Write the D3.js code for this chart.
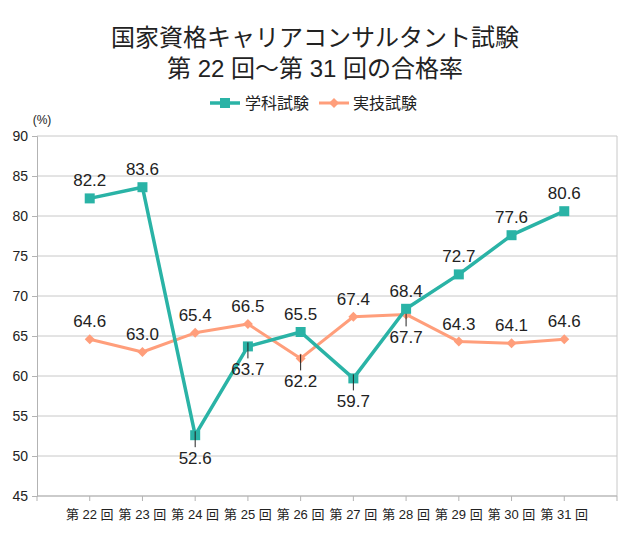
<!DOCTYPE html>
<html>
<head>
<meta charset="utf-8">
<script src="https://cdn.jsdelivr.net/npm/d3@7"></script>
<style>
  body { margin: 0; background: white; }
  svg text { font-family: "Liberation Sans", "Noto Sans CJK JP", sans-serif; fill: #222; }
</style>
</head>
<body>
<svg id="chart"></svg>
<script>
// exam rounds
const rounds = ["第 22 回", "第 23 回", "第 24 回", "第 25 回", "第 26 回", "第 27 回", "第 28 回", "第 29 回", "第 30 回", "第 31 回"];
// pass rates (%)
const gakka = [82.2, 83.6, 52.6, 63.7, 65.5, 59.7, 68.4, 72.7, 77.6, 80.6];
const jitsugi = [64.6, 63.0, 65.4, 66.5, 62.2, 67.4, 67.7, 64.3, 64.1, 64.6];
// which labels go under the point
const gakkaBelow = [false, false, true, true, false, true, false, false, false, false];
const jitsugiBelow = [false, false, false, false, true, false, true, false, false, false];
const yTicks = [45, 50, 55, 60, 65, 70, 75, 80, 85, 90];

const width = 630, height = 533;
const margin = { top: 136, right: 13, bottom: 37, left: 37 };
const innerW = width - margin.left - margin.right;
const innerH = height - margin.top - margin.bottom;

const teal = "#2ab3a6";
const orange = "#ff9e7b";

const svg = d3.select("#chart")
    .attr("width", width)
    .attr("height", height);

//title
svg.append("text")
    .attr("x", width / 2).attr("y", 46)
    .attr("text-anchor", "middle")
    .style("font-size", "24px")
    .text("国家資格キャリアコンサルタント試験");
svg.append("text")
    .attr("x", width / 2).attr("y", 77)
    .attr("text-anchor", "middle")
    .style("font-size", "24px")
    .text("第 22 回〜第 31 回の合格率");

const g = svg.append("g")
    .attr("transform", `translate(${margin.left},${margin.top})`);

const xScale = d3.scalePoint()
    .domain(rounds)
    .range([0, innerW])
    .padding(1);

const yScale = d3.scaleLinear()
    .domain([45, 90])
    .range([innerH, 0]);

//grid
g.append("g")
    .selectAll("line")
    .data(yTicks)
    .enter()
    .append("line")
    .attr("x1", 0).attr("x2", innerW)
    .attr("y1", d => yScale(d)).attr("y2", d => yScale(d))
    .style("stroke", "#c8c8c8")
    .style("stroke-width", 1);

//right border
g.append("line")
    .attr("x1", innerW).attr("x2", innerW)
    .attr("y1", 0).attr("y2", innerH)
    .style("stroke", "#c8c8c8");

//y axis
const yAxis = d3.axisLeft(yScale)
    .tickValues(yTicks)
    .tickSize(5)
    .tickPadding(4);
const yAxisGroup = g.append("g").call(yAxis);
yAxisGroup.select(".domain").style("stroke", "#b3b3b3");
yAxisGroup.selectAll(".tick line").style("stroke", "#b3b3b3");
yAxisGroup.selectAll("text")
    .style("font-size", "14px")
    .style("font-family", "Liberation Sans")
    .style("fill", "#222");

g.append("text")
    .attr("x", 5).attr("y", -12)
    .attr("text-anchor", "middle")
    .style("font-size", "12px")
    .text("(%)");

//x axis
const step = xScale.step();
const xTickPos = d3.range(rounds.length + 2).map(i => i * step);
const xAxisGroup = g.append("g")
    .attr("transform", `translate(0,${innerH})`);
xAxisGroup.append("line")
    .attr("x1", 0).attr("x2", innerW)
    .style("stroke", "#b3b3b3");
xAxisGroup.selectAll("line.tick")
    .data(xTickPos)
    .enter()
    .append("line")
    .attr("class", "tick")
    .attr("x1", d => d).attr("x2", d => d)
    .attr("y1", 0).attr("y2", 5)
    .style("stroke", "#b3b3b3");
xAxisGroup.selectAll("text")
    .data(rounds)
    .enter()
    .append("text")
    .attr("x", d => xScale(d))
    .attr("y", 23)
    .attr("text-anchor", "middle")
    .style("font-size", "13px")
    .text(d => d);

//series
const line = d3.line()
    .x((d, i) => xScale(rounds[i]))
    .y(d => yScale(d));

function drawSeries(values, below, color, lineW, marker) {
    g.append("path")
        .datum(values)
        .attr("d", line)
        .style("fill", "none")
        .style("stroke", color)
        .style("stroke-width", lineW)
        .style("stroke-linejoin", "round");

    g.selectAll(null)
        .data(values)
        .enter()
        .append("path")
        .attr("transform", (d, i) => `translate(${xScale(rounds[i])},${yScale(d)})`)
        .attr("d", marker)
        .style("fill", color);

    //leader lines for labels below
    g.selectAll(null)
        .data(values.map((v, i) => ({ v, i })).filter(d => below[d.i]))
        .enter()
        .append("line")
        .attr("x1", d => xScale(rounds[d.i])).attr("x2", d => xScale(rounds[d.i]))
        .attr("y1", d => yScale(d.v) - 4).attr("y2", d => yScale(d.v) + 12)
        .style("stroke", "#222")
        .style("stroke-width", 1);

    g.selectAll(null)
        .data(values)
        .enter()
        .append("text")
        .attr("x", (d, i) => xScale(rounds[i]))
        .attr("y", (d, i) => below[i] ? yScale(d) + 29 : yScale(d) - 12)
        .attr("text-anchor", "middle")
        .style("font-size", "17px")
        .text(d => d.toFixed(1));
}

const squareMarker = d3.symbol().type(d3.symbolSquare).size(100)();
const diamondMarker = "M0,-5L5,0L0,5L-5,0Z";

drawSeries(jitsugi, jitsugiBelow, orange, 3, diamondMarker);
drawSeries(gakka, gakkaBelow, teal, 3.5, squareMarker);

//legend
const legend = svg.append("g").attr("transform", "translate(0,103)");
legend.append("line").attr("x1", 210).attr("x2", 240).style("stroke", teal).style("stroke-width", 3.5);
legend.append("path").attr("transform", "translate(225,0)").attr("d", squareMarker).style("fill", teal);
legend.append("text").attr("x", 245).attr("y", 6).style("font-size", "16px").text("学科試験");
legend.append("line").attr("x1", 319).attr("x2", 349).style("stroke", orange).style("stroke-width", 3);
legend.append("path").attr("transform", "translate(334,0)").attr("d", diamondMarker).style("fill", orange);
legend.append("text").attr("x", 353).attr("y", 6).style("font-size", "16px").text("実技試験");
</script>
</body>
</html>
